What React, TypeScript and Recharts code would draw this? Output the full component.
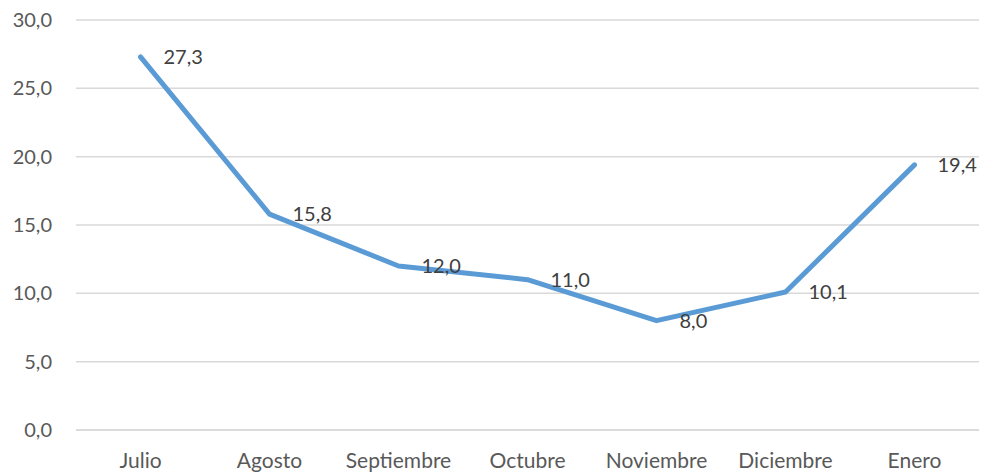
import { CartesianGrid, LabelList, Line, LineChart, XAxis, YAxis } from 'recharts';

const MONTHS = ['Julio', 'Agosto', 'Septiembre', 'Octubre', 'Noviembre', 'Diciembre', 'Enero'];
const VALUES = [27.3, 15.8, 12.0, 11.0, 8.0, 10.1, 19.4];
const Y_TICKS = [0, 5, 10, 15, 20, 25, 30];

const data = MONTHS.map((month, i) => ({ month, value: VALUES[i] }));

const FONT = 'Lato, "Open Sans", sans-serif';
const fmt = (v: number) => v.toFixed(1).replace('.', ',');

function ValueLabel(props: any) {
  const { x, y, value } = props;
  return (
    <text x={x + 23} y={y} dy="0.36em" textAnchor="start" fill="#404040" fontSize={20} fontFamily={FONT}>
      {fmt(value)}
    </text>
  );
}

export default function App() {
  return (
    <div style={{ position: 'absolute', left: 0, top: 0, width: 983, height: 474, background: '#fff' }}>
      <LineChart width={983} height={474} data={data} margin={{ top: 20, right: 4, bottom: 0, left: 0 }}>
        <CartesianGrid vertical={false} stroke="#d9d9d9" strokeWidth={1.5} />
        <XAxis
          dataKey="month"
          axisLine={{ stroke: '#d9d9d9', strokeWidth: 1.5 }}
          tickLine={false}
          tickSize={0}
          tickMargin={23}
          height={44}
          padding={{ left: 64.5, right: 64.5 }}
          tick={{ fill: '#595959', fontSize: 21, fontFamily: FONT }}
          interval={0}
        />
        <YAxis
          domain={[0, 30]}
          ticks={Y_TICKS}
          width={76}
          axisLine={false}
          tickLine={false}
          tickSize={0}
          tickMargin={24}
          tickFormatter={fmt}
          tick={{ fill: '#595959', fontSize: 20, fontFamily: FONT }}
        />
        <Line
          type="linear"
          dataKey="value"
          stroke="#5b9bd5"
          strokeWidth={5}
          strokeLinecap="round"
          strokeLinejoin="round"
          dot={false}
          activeDot={false}
          isAnimationActive={false}
        >
          <LabelList dataKey="value" content={ValueLabel} />
        </Line>
      </LineChart>
    </div>
  );
}
